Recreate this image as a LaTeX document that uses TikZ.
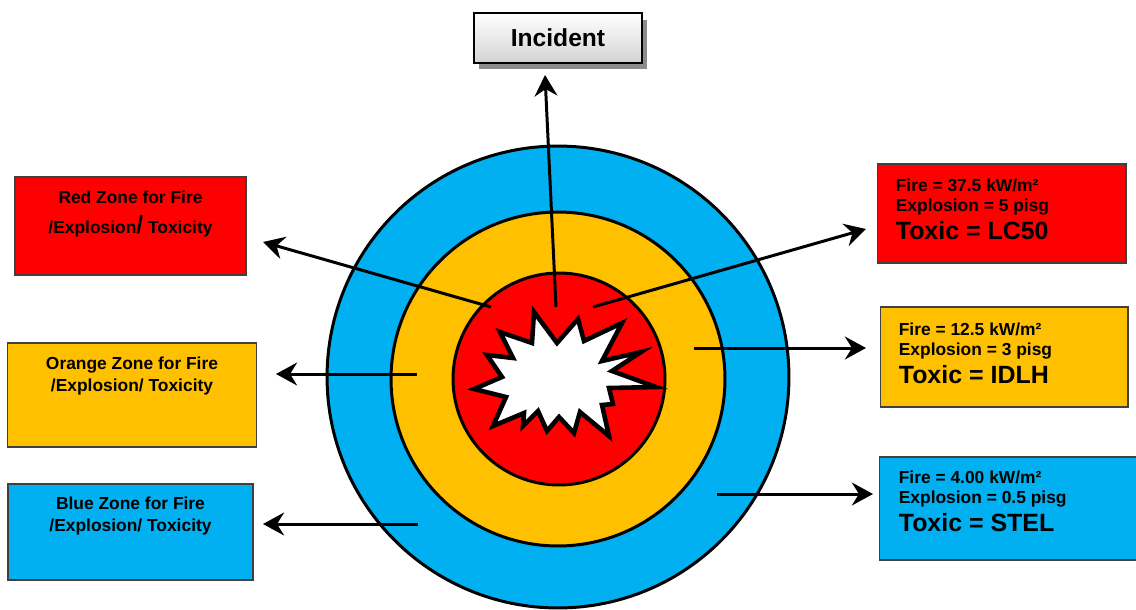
\documentclass[tikz,border=0pt]{standalone}
\usepackage{fontspec}
\setmainfont{Liberation Sans}
\usetikzlibrary{arrows.meta, positioning, shadows}

\definecolor{zonered}{HTML}{FF0000}
\definecolor{zoneorange}{HTML}{FFC000}
\definecolor{zoneblue}{HTML}{00B0F0}

\begin{document}
\begin{tikzpicture}[
    x=0.02cm, y=-0.02cm,
    ring/.style={circle, draw=black, line width=1.7pt, inner sep=0pt},
    zonebox/.style={rectangle, draw=black!75, line width=0.6pt, inner sep=0pt},
    zonetext/.style={font=\fontsize{9.9}{12.4}\selectfont\bfseries, align=center, inner sep=0pt},
    limittext/.style={font=\fontsize{9.9}{11.4}\selectfont\bfseries, align=left, inner sep=0pt},
    pointer/.style={-{Stealth[length=12pt, width=13pt, inset=4pt]}, line width=1.7pt}
]
\useasboundingbox (0,0) rectangle (1136,609);

% Cerchi delle zone
\node[ring, fill=zoneblue, minimum size=9.24cm] (blue) at (558,377) {};
\node[ring, fill=zoneorange, minimum size=6.68cm] (orange) at (558,379) {};
\node[ring, fill=zonered, minimum size=4.24cm] (red) at (559,379) {};

% Esplosione
\draw[line width=2.6pt, fill=white, line join=miter]
    (534,312) -- (557,343) -- (578,319) -- (584,341) -- (622,323) -- (602,361)
    -- (641,352) -- (612,371) -- (656,387) -- (609,388) -- (613,404) -- (602,405)
    -- (609,436) -- (580,412) -- (574,433) -- (559,417) -- (547,431) -- (538,411)
    -- (523,426) -- (524,413) -- (493,426) -- (506,397) -- (474,389) -- (502,377)
    -- (487,355) -- (513,358) -- (500,332) -- (532,343) -- cycle;

% Incident
\node[rectangle, draw=black, line width=1.1pt, top color=white, bottom color=black!17,
    drop shadow={shadow xshift=0.1cm, shadow yshift=-0.13cm, fill=black!45, opacity=1},
    minimum width=3.36cm, minimum height=1.0cm, font=\fontsize{14}{16}\selectfont\bfseries]
    (incident) at (558,38) {Incident};

% Riquadri a sinistra
\node[zonebox, fill=zonered, minimum width=4.62cm, minimum height=1.96cm] (redL) at (130.5,226) {};
\node[zonebox, fill=zoneorange, minimum width=4.97cm, minimum height=2.08cm] (orangeL) at (132,395) {};
\node[zonebox, fill=zoneblue, minimum width=4.9cm, minimum height=1.92cm] (blueL) at (130.5,532) {};

\node[zonetext, below=0.28cm of redL.north] (redLtext)
    {Red Zone for Fire\\[4.9pt] /Explosion{\fontsize{14}{16}\selectfont/} Toxicity};
\node[zonetext, below=0.28cm of orangeL.north] (orangeLtext)
    {Orange Zone for Fire\\ /Explosion/ Toxicity};
\node[zonetext, below=0.27cm of blueL.north] (blueLtext)
    {Blue Zone for Fire\\ /Explosion/ Toxicity};

% Riquadri a destra
\node[zonebox, fill=zonered, minimum width=4.98cm, minimum height=1.98cm] (redR) at (1001.5,213.5) {};
\node[zonebox, fill=zoneorange, minimum width=4.96cm, minimum height=2.0cm] (orangeR) at (1004,357) {};
\node[zonebox, fill=zoneblue, minimum width=5.22cm, minimum height=2.06cm] (blueR) at (1009.5,508.5) {};

\node[limittext, below right=0.31cm and 0.38cm of redR.north west] (redRtext)
    {Fire = 37.5 kW/m²\\ Explosion = 5 pisg\\[2.1pt] {\fontsize{14.2}{16}\selectfont Toxic = LC50}};
\node[limittext, below right=0.33cm and 0.38cm of orangeR.north west] (orangeRtext)
    {Fire = 12.5 kW/m²\\ Explosion = 3 pisg\\[2.1pt] {\fontsize{14.2}{16}\selectfont Toxic = IDLH}};
\node[limittext, below right=0.29cm and 0.4cm of blueR.north west] (blueRtext)
    {Fire = 4.00 kW/m²\\ Explosion = 0.5 pisg\\[2.1pt] {\fontsize{14.2}{16}\selectfont Toxic = STEL}};

% Estremi delle frecce
\coordinate (incTail) at (556,307);
\coordinate (incTip) at (545,75);
\coordinate (redLtail) at (491,307);
\coordinate (redLtip) at (263,242);
\coordinate (orangeLtail) at (417,374);
\coordinate (orangeLtip) at (276,374);
\coordinate (blueLtail) at (418,524);
\coordinate (blueLtip) at (263,524);
\coordinate (redRtail) at (593,307);
\coordinate (redRtip) at (866,229);
\coordinate (orangeRtail) at (694,348);
\coordinate (orangeRtip) at (866,348);
\coordinate (blueRtail) at (717,494);
\coordinate (blueRtip) at (873,494);

% Frecce
\draw[pointer] (incTail) -- (incTip);
\draw[pointer] (redLtail) -- (redLtip);
\draw[pointer] (orangeLtail) -- (orangeLtip);
\draw[pointer] (blueLtail) -- (blueLtip);
\draw[pointer] (redRtail) -- (redRtip);
\draw[pointer] (orangeRtail) -- (orangeRtip);
\draw[pointer] (blueRtail) -- (blueRtip);

\end{tikzpicture}
\end{document}
